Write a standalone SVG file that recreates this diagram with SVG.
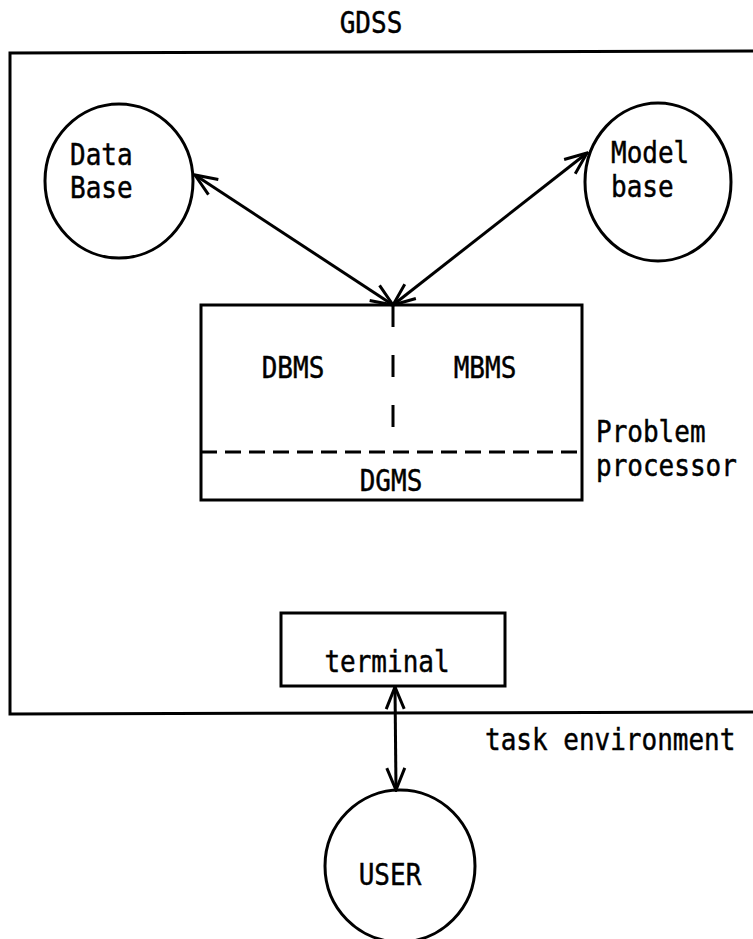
<svg xmlns="http://www.w3.org/2000/svg" width="753" height="939" viewBox="0 0 753 939">
  <style>
    .ln { fill: none; stroke: #000; stroke-width: 3; }
    .tx { font-family: "DejaVu Sans Mono", "Liberation Mono", monospace; font-size: 26px; fill: #000; stroke: #000; stroke-width: 0.4; }
    .c { text-anchor: middle; }
  </style>
  <defs>
    <marker id="arr" viewBox="-24 -12 26 24" refX="0" refY="0" markerWidth="26" markerHeight="24" markerUnits="userSpaceOnUse" orient="auto-start-reverse">
      <path d="M-22,-9 L0,0 L-22,9" fill="none" stroke="#000" stroke-width="3"/>
    </marker>
  </defs>
  <rect width="753" height="939" fill="#fff"/>

  <g id="gdss">
    <path class="ln" d="M753,51 L10,53 L10,714 L753,712"/>
    <text class="tx c" transform="translate(371,33) scale(1,1.13)">GDSS</text>
    <text class="tx" transform="translate(485,750) scale(1,1.13)">task environment</text>
  </g>

  <g id="database">
    <ellipse class="ln" cx="119" cy="181" rx="74" ry="77"/>
    <text class="tx" transform="translate(70,165) scale(1,1.13)">Data</text>
    <text class="tx" transform="translate(70,198) scale(1,1.13)">Base</text>
  </g>

  <g id="modelbase">
    <ellipse class="ln" cx="658" cy="182" rx="73" ry="79"/>
    <text class="tx" transform="translate(611,163) scale(1,1.13)">Model</text>
    <text class="tx" transform="translate(611,197) scale(1,1.13)">base</text>
  </g>

  <g id="problem-processor">
    <rect class="ln" x="201" y="305" width="381" height="195"/>
    <line class="ln" x1="393" y1="305" x2="393" y2="452" stroke-dasharray="22 28"/>
    <line class="ln" x1="201" y1="452" x2="582" y2="452" stroke-dasharray="16 8"/>
    <text class="tx c" transform="translate(293,378) scale(1,1.13)">DBMS</text>
    <text class="tx c" transform="translate(485,378) scale(1,1.13)">MBMS</text>
    <text class="tx c" transform="translate(391,491) scale(1,1.13)">DGMS</text>
    <text class="tx" transform="translate(596,442) scale(1,1.13)">Problem</text>
    <text class="tx" transform="translate(596,476) scale(1,1.13)">processor</text>
  </g>

  <g id="terminal">
    <rect class="ln" x="281" y="613" width="224" height="73"/>
    <text class="tx c" transform="translate(387,672) scale(1,1.13)">terminal</text>
  </g>

  <g id="user">
    <ellipse class="ln" cx="400" cy="866" rx="75" ry="76"/>
    <text class="tx c" transform="translate(390,885) scale(1,1.13)">USER</text>
  </g>

  <g id="connectors">
    <line class="ln" x1="195" y1="175" x2="393" y2="305" marker-start="url(#arr)" marker-end="url(#arr)"/>
    <line class="ln" x1="587" y1="153" x2="393" y2="305" marker-start="url(#arr)" marker-end="url(#arr)"/>
    <line class="ln" x1="395" y1="687" x2="396" y2="790" marker-start="url(#arr)" marker-end="url(#arr)"/>
  </g>
</svg>
